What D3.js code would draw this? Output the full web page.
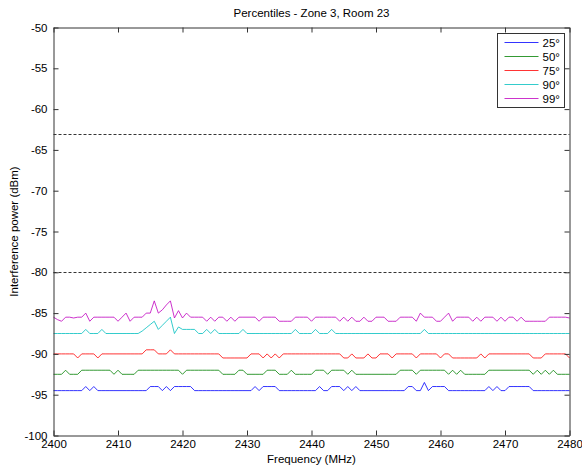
<!DOCTYPE html>
<html>
<head>
<meta charset="utf-8">
<script src="https://cdn.jsdelivr.net/npm/d3@7"></script>
<style>
  body { margin: 0; background: #fff; }
  text { font-family: "Liberation Sans", Arial, Helvetica, sans-serif; }
</style>
</head>
<body>
<svg id="chart" width="582" height="467"></svg>
<script>
// Frequency grid: samples every 0.625 MHz from 2400 MHz
const freqStart = 2400;
const freqStep = 0.625;

// Interference power percentiles (dBm), one value per frequency sample
const p25 = [
  -94.5,-94.5,-94.5,-94.5,-94.5,-94.5,-94.5,-94.5,-94,-94.5,
  -94,-94.5,-94.5,-94.5,-94.5,-94.5,-94.5,-94.5,-94.5,-94.5,
  -94.5,-94.5,-94.5,-94.5,-94,-94,-94,-94.5,-94,-94.5,
  -94,-94,-94,-94,-94,-94.5,-94.5,-94.5,-94.5,-94.5,
  -94.5,-94.5,-94.5,-94.5,-94.5,-94.5,-94.5,-94.5,-94.5,-94.5,
  -94,-94.5,-94,-94,-94,-94,-94.5,-94.5,-94.5,-94.5,
  -94.5,-94.5,-94.5,-94.5,-94.5,-94.5,-94,-94.5,-94.5,-94,
  -94,-94,-94.5,-94,-94.5,-94,-94.5,-94.5,-94.5,-94.5,
  -94.5,-94.5,-94.5,-94.5,-94.5,-94.5,-94.5,-94.5,-94,-94,
  -94.5,-94.5,-93.5,-94.5,-94,-94,-94,-94,-94.5,-94.5,
  -94.5,-94.5,-94.5,-94.5,-94.5,-94.5,-94.5,-94.5,-94,-94.5,
  -94,-94.5,-94.5,-94,-94,-94,-94,-94,-94,-94.5,
  -94.5,-94.5,-94.5,-94.5,-94.5,-94.5,-94.5,-94.5,-94.5
];
const p50 = [
  -92.5,-92.5,-92.5,-92,-92.5,-92.5,-92.5,-92,-92,-92,
  -92,-92,-92,-92,-92,-92.5,-92,-92.5,-92.5,-92.5,
  -92.5,-92,-92,-92,-92,-92,-92,-92,-92,-92,
  -92,-92,-92.5,-92,-92,-92,-92,-92,-92,-92,
  -92,-92,-92.5,-92.5,-92.5,-92.5,-92,-92,-92.5,-92.5,
  -92.5,-92.5,-92.5,-92,-92,-92,-92.5,-92.5,-92.5,-92,
  -92.5,-92.5,-92.5,-92.5,-92.5,-92,-92,-92,-92.5,-92,
  -92,-92,-92,-92.5,-92,-92.5,-92.5,-92.5,-92.5,-92.5,
  -92.5,-92.5,-92.5,-92.5,-92.5,-92.5,-92,-92,-92,-92,
  -92.5,-92,-92,-92,-92,-92,-92,-92,-92.5,-92,
  -92.5,-92,-92.5,-92.5,-92.5,-92.5,-92.5,-92.5,-92,-92,
  -92,-92,-92,-92,-92,-92,-92,-92,-92,-92.5,
  -92,-92.5,-92,-92.5,-92,-92.5,-92.5,-92.5,-92.5
];
const p75 = [
  -90,-90,-90,-90,-90,-90,-90.5,-90,-90,-90,
  -90,-90.5,-90,-90,-90,-90,-90,-90,-90,-90,
  -90,-90,-90,-89.5,-89.5,-89.5,-90,-90,-90,-89.5,
  -90,-90,-90,-90,-90,-90,-90,-90,-90,-90,
  -90,-90,-90.5,-90.5,-90.5,-90.5,-90.5,-90.5,-90.5,-90,
  -90,-90,-90.5,-90,-90.5,-90,-90.5,-90,-90,-90,
  -90,-90,-90,-90,-90,-90,-90,-90,-90,-90,
  -90,-90,-90.5,-90.5,-90,-90.5,-90.5,-90.5,-90,-90.5,
  -90.5,-90,-90,-90,-90.5,-90,-90,-90,-90,-90,
  -90.5,-90,-90,-90,-90,-90,-90.5,-90,-90,-90.5,
  -90.5,-90.5,-90.5,-90.5,-90.5,-90.5,-90,-90.5,-90,-90,
  -90,-90,-90,-90,-90,-90,-90,-90,-90,-90.5,
  -90.5,-90.5,-90,-90,-90,-90,-90,-90,-90.5
];
const p90 = [
  -87.5,-87.5,-87.5,-87.5,-87.5,-87.5,-87.5,-87.5,-87,-87.5,
  -87.5,-87.5,-87,-87.5,-87.5,-87.5,-87.5,-87.5,-87.5,-87.5,
  -87.5,-87.5,-87.2,-86.8,-86.4,-86.0,-87.0,-86.5,-86.0,-85.5,
  -87.5,-86.7,-87,-87,-87,-87,-87.5,-87.5,-87,-87.5,
  -87,-87.5,-87.5,-87.5,-87.5,-87.5,-87.5,-87,-87.5,-87.5,
  -87.5,-87.5,-87.5,-87.5,-87.5,-87.5,-87.5,-87.5,-87.5,-87.5,
  -87,-87.5,-87.5,-87.5,-87.5,-87,-87.5,-87.5,-87.5,-87,
  -87.5,-87.5,-87.5,-87.5,-87.5,-87.5,-87.5,-87.5,-87.5,-87.5,
  -87.5,-87.5,-87.5,-87.5,-87.5,-87.5,-87.5,-87.5,-87.5,-87.5,
  -87.5,-87.5,-87,-87.5,-87.5,-87.5,-87.5,-87.5,-87.5,-87.5,
  -87.5,-87.5,-87.5,-87.5,-87.5,-87.5,-87.5,-87.5,-87.5,-87.5,
  -87.5,-87.5,-87.5,-87.5,-87.5,-87.5,-87.5,-87.5,-87.5,-87.5,
  -87.5,-87.5,-87.5,-87.5,-87.5,-87.5,-87.5,-87.5,-87.5
];
const p99 = [
  -85.5,-85.8,-86,-85.5,-85.5,-85.6,-85.5,-85.5,-85,-86,
  -85.5,-85.5,-85.5,-85.5,-85.5,-85.5,-86,-85.5,-85,-86,
  -85.5,-85.5,-85.5,-85,-85,-83.5,-85,-84.6,-84,-83.5,
  -85.6,-84.7,-85.6,-85,-85.5,-85.5,-85.5,-85.5,-86,-85.5,
  -86,-85.5,-85.5,-86,-85.5,-86,-85.5,-85.5,-85.5,-85.5,
  -85.5,-86,-85.5,-85.5,-85.5,-85.5,-86,-86,-86,-86,
  -85.5,-85.5,-85.5,-85.5,-86,-85.5,-85.5,-85.5,-85.5,-85.5,
  -85.5,-86,-85.5,-86,-85.5,-86,-86,-85.5,-86,-86,
  -85.5,-85.5,-85.5,-86,-86,-86,-85.5,-85.5,-85.5,-85.5,
  -86,-85,-85.5,-85.5,-85.5,-86,-86,-85.5,-85,-86,
  -85.5,-85.5,-85.5,-85.5,-86,-85.5,-86,-85.5,-85.5,-85.5,
  -86,-85.5,-86,-85.5,-85.5,-86,-85.5,-86,-86,-86,
  -86,-86,-86,-85.5,-85.5,-85.5,-85.5,-85.5,-85.6
];

const seriesNames = ["25°", "50°", "75°", "90°", "99°"];
const seriesValues = [p25, p50, p75, p90, p99];
const seriesColors = ["#0000ff", "#008000", "#ff0000", "#00bfbf", "#bf00bf"];

// Reference levels drawn as dashed horizontal lines
const thresholds = [-63, -80];

const xTicks = [2400, 2410, 2420, 2430, 2440, 2450, 2460, 2470, 2480];
const yTicks = [-100, -95, -90, -85, -80, -75, -70, -65, -60, -55, -50];

const titleText = "Percentiles - Zone 3, Room 23";
const xLabel = "Frequency (MHz)";
const yLabel = "Interference power (dBm)";

// ---- layout ----
const svg = d3.select("#chart");
const plotLeft = 53.5, plotRight = 569.5, plotTop = 27.5, plotBottom = 435.5;
const fontSize = 11.5;
const axisColor = "#333";

const x = d3.scaleLinear().domain([2400, 2480]).range([plotLeft, plotRight]);
const y = d3.scaleLinear().domain([-100, -50]).range([plotBottom, plotTop]);

// plain hyphen-minus tick labels
const plainNumber = d => String(d);

// plot background
svg.append("rect").attr("x", plotLeft).attr("y", plotTop)
  .attr("width", plotRight - plotLeft).attr("height", plotBottom - plotTop)
  .attr("fill", "#fff");

// threshold lines
svg.append("g").selectAll("line").data(thresholds).join("line")
  .attr("x1", plotLeft).attr("x2", plotRight)
  .attr("y1", d => Math.round(y(d)) + 0.5).attr("y2", d => Math.round(y(d)) + 0.5)
  .attr("stroke", "#000").attr("stroke-width", 0.8)
  .attr("stroke-dasharray", "3,2");

// percentile lines
const line = d3.line()
  .x((d, i) => x(freqStart + i * freqStep))
  .y(d => y(d));

svg.append("g").selectAll("path").data(seriesValues).join("path")
  .attr("d", d => line(d))
  .attr("fill", "none")
  .attr("stroke", (d, i) => seriesColors[i])
  .attr("stroke-width", 0.8)
  .attr("stroke-linejoin", "round");

// axes (ticks point inwards on all four sides)
function styleAxis(g) {
  g.selectAll(".domain").attr("stroke", axisColor);
  g.selectAll(".tick line").attr("stroke", axisColor);
  g.selectAll("text").attr("fill", "#000")
    .style("font-size", fontSize + "px")
    .style("font-family", '"Liberation Sans", Arial, sans-serif');
}

svg.append("g").attr("transform", `translate(0,${plotBottom})`)
  .call(d3.axisBottom(x).tickValues(xTicks).tickSize(-5).tickSizeOuter(0).tickPadding(4).tickFormat(plainNumber))
  .call(styleAxis);
svg.append("g").attr("transform", `translate(0,${plotTop})`)
  .call(d3.axisTop(x).tickValues(xTicks).tickSize(-5).tickSizeOuter(0).tickFormat(""))
  .call(styleAxis);
svg.append("g").attr("transform", `translate(${plotLeft},0)`)
  .call(d3.axisLeft(y).tickValues(yTicks).tickSize(-5).tickSizeOuter(0).tickPadding(6).tickFormat(plainNumber))
  .call(styleAxis);
svg.append("g").attr("transform", `translate(${plotRight},0)`)
  .call(d3.axisRight(y).tickValues(yTicks).tickSize(-5).tickSizeOuter(0).tickFormat(""))
  .call(styleAxis);

// title and axis labels
svg.append("text").attr("x", (plotLeft + plotRight) / 2).attr("y", 17)
  .attr("text-anchor", "middle").style("font-size", fontSize + "px").text(titleText);
svg.append("text").attr("x", (plotLeft + plotRight) / 2).attr("y", 463)
  .attr("text-anchor", "middle").style("font-size", fontSize + "px").text(xLabel);
svg.append("text")
  .attr("transform", `translate(18,${(plotTop + plotBottom) / 2}) rotate(-90)`)
  .attr("text-anchor", "middle").style("font-size", fontSize + "px").text(yLabel);

// legend
const lg = svg.append("g");
const lgX = 497.5, lgY = 33.5, lgW = 67, lgH = 74, rowH = 14;
lg.append("rect").attr("x", lgX).attr("y", lgY).attr("width", lgW).attr("height", lgH)
  .attr("fill", "#fff").attr("stroke", axisColor);
const rows = lg.selectAll("g").data(seriesNames).join("g")
  .attr("transform", (d, i) => `translate(0,${lgY + 9 + i * rowH})`);
rows.append("line").attr("x1", lgX + 7).attr("x2", lgX + 41)
  .attr("y1", 0).attr("y2", 0)
  .attr("stroke", (d, i) => seriesColors[i]).attr("stroke-width", 0.8);
rows.append("text").attr("x", lgX + 45).attr("y", 4)
  .style("font-size", fontSize + "px").text(d => d);
</script>
</body>
</html>
